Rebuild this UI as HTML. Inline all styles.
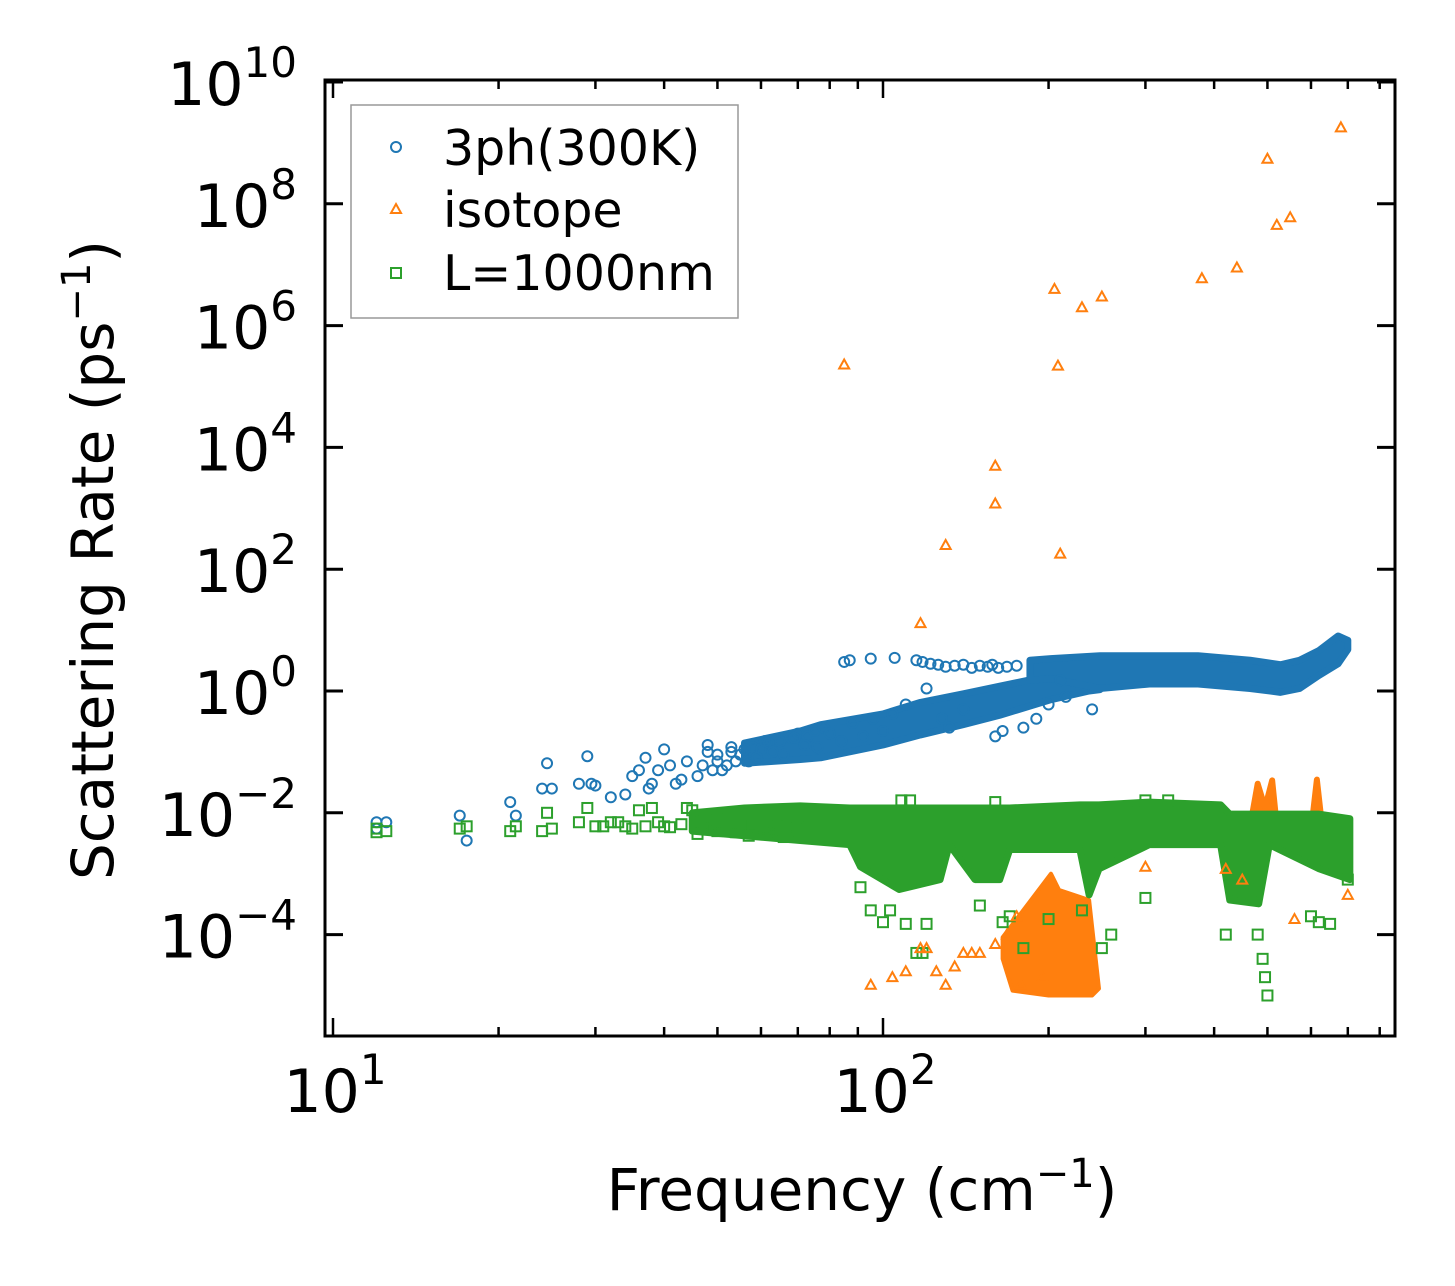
<!DOCTYPE html>
<html><head><meta charset="utf-8">
<style>
html,body{margin:0;padding:0;background:#fff;}
svg{display:block;font-family:"DejaVu Sans","Liberation Sans",sans-serif;}
</style></head>
<body>
<svg id="chart" width="1455" height="1286" viewBox="0 0 1455 1286" xmlns="http://www.w3.org/2000/svg">
<g id="bands"></g>
<g id="marks"></g>
<g id="axes"></g>
<text x="862" y="1210" font-size="58" text-anchor="middle">Frequency (cm<tspan dy="-23" font-size="40">−1</tspan><tspan dy="23">)</tspan></text>
<text transform="translate(113,560) rotate(-90)" font-size="58" text-anchor="middle">Scattering Rate (ps<tspan dy="-23" font-size="40">−1</tspan><tspan dy="23">)</tspan></text>
<g>
<rect x="351" y="105" width="387" height="213" fill="#fff" stroke="#999" stroke-width="1.5"/>
<circle cx="396" cy="147" r="5" fill="none" stroke="#1f77b4" stroke-width="2"/>
<text x="443" y="165" font-size="49">3ph(300K)</text>
<path d="M396,204 L401,213 L391,213 Z" fill="none" stroke="#ff7f0e" stroke-width="2"/>
<text x="443" y="227" font-size="49">isotope</text>
<rect x="391" y="268" width="10" height="10" fill="none" stroke="#2ca02c" stroke-width="2"/>
<text x="443" y="290" font-size="49">L=1000nm</text>
</g>
</svg>
<script>
// ---- data ----
const ph3Freq = [12,12,12.5,17,17.5,21,21.5,24,24.5,25,28,29,29.5,30,32,34,35,36,37,37.5,38,39,40,41,42,43,44,46,48,49,50,52,53,55,57,58,60,62,65,68,70,73,75,78,85,87,95,105,115,118,122,126,130,135,140,145,150,155,158,162,168,175,110,120,128,132,140,160,165,180,190,210,200,215,240,47,48,50,51,53,54,56,59,61,63,66,69,72,76,80,84,88,92,96,100,104];
const ph3Rate = [0.007,0.0055,0.007,0.009,0.0035,0.015,0.009,0.025,0.065,0.025,0.03,0.085,0.03,0.028,0.018,0.02,0.04,0.05,0.08,0.025,0.03,0.05,0.11,0.06,0.03,0.035,0.07,0.04,0.1,0.05,0.07,0.06,0.1,0.09,0.07,0.12,0.11,0.14,0.15,0.17,0.2,0.18,0.22,0.25,3,3.2,3.4,3.5,3.2,3,2.8,2.7,2.5,2.6,2.7,2.4,2.6,2.5,2.7,2.4,2.5,2.6,0.6,1.1,0.35,0.25,0.5,0.18,0.22,0.25,0.35,1.5,0.6,0.8,0.5,0.06,0.13,0.09,0.05,0.12,0.07,0.11,0.08,0.15,0.1,0.09,0.17,0.13,0.12,0.2,0.15,0.3,0.18,0.35,0.22,0.42];
const ph3BandFreq = [56,70.7,77,100,117,140,163,202,237,248];
const ph3BandLo = [0.065,0.075,0.08,0.13,0.19,0.28,0.4,0.72,1.0,1.05];
const ph3BandHi = [0.14,0.22,0.28,0.42,0.65,0.9,1.2,1.8,2.5,2.6];
const ph3UpFreq = [185,202,248,305,374,465,528,572,620,672,700];
const ph3UpLo = [1.5,1.6,1.1,1.3,1.3,1.1,0.95,1.1,1.8,2.8,4.8];
const ph3UpHi = [3.2,3.4,3.8,3.8,3.8,3.2,2.7,3.2,4.6,8,6.8];

const isoFreq = [85,117,130,160,160,205,208,210,230,250,380,440,500,520,550,680,95,104,110,117,120,125,130,135,140,145,150,160,168,175,178,195,700,450,560,420,300];
const isoRate = [2.3e5,13,250,5000,1200,4e6,2.2e5,180,2e6,3e6,6e6,9e6,5.5e8,4.5e7,6e7,1.8e9,1.5e-5,2e-5,2.5e-5,6e-5,6e-5,2.5e-5,1.5e-5,3e-5,5e-5,5e-5,5e-5,7e-5,1e-4,2e-4,1.5e-5,2e-5,4.5e-4,8e-4,1.8e-4,1.2e-3,1.3e-3];
const isoBandFreq = [165,185,202,209,237,247,240,200,172,165];
const isoBandRate = [9e-5,3.5e-4,1.0e-3,5.4e-4,3.7e-4,1.3e-5,1e-5,1e-5,1.2e-5,4e-5];
const isoPeakFreq = [465,480,495,510,520,530,600,615,630,640,600];
const isoPeakRate = [0.006,0.03,0.012,0.034,0.006,0.005,0.005,0.035,0.005,0.004,0.004];

const bndFreq = [12,12,12.5,17,17.5,21,21.5,24,24.5,25,28,29,30,32,34,36,38,40,44,91,95,100,103,110,115,118,120,150,165,170,180,200,230,250,260,300,420,480,490,495,500,600,620,650,108,112,160,300,330,700,31,33,35,37,39,41,43,45,47,49,52,55,58,61,64,67,70,46,50,54,57,62,66];
const bndRate = [0.0055,0.0048,0.005,0.0055,0.006,0.005,0.006,0.005,0.01,0.0055,0.007,0.012,0.006,0.007,0.006,0.011,0.012,0.006,0.012,6e-4,2.5e-4,1.6e-4,2.5e-4,1.5e-4,5e-5,5e-5,1.5e-4,3e-4,1.6e-4,2e-4,6e-5,1.8e-4,2.5e-4,6e-5,1e-4,4e-4,1e-4,1e-4,4e-5,2e-5,1e-5,2e-4,1.6e-4,1.5e-4,0.016,0.016,0.015,0.016,0.016,8e-4,0.006,0.007,0.0055,0.006,0.007,0.0058,0.0065,0.011,0.006,0.0055,0.0068,0.006,0.0062,0.0055,0.0065,0.006,0.0058,0.0045,0.005,0.0048,0.0042,0.0045,0.004];
const bndBandFreq = [45,56,70.7,87,91,107,127,132,147,163,170,228,237,247,305,411,427,482,504,621,706];
const bndBandLo = [0.005,0.0042,0.0035,0.003,0.0013,0.00055,0.0008,0.003,0.0008,0.0008,0.0025,0.0025,0.00045,0.0012,0.003,0.003,0.00037,0.00032,0.003,0.0012,0.0008];
const bndBandHi = [0.01,0.012,0.013,0.012,0.012,0.012,0.012,0.012,0.012,0.012,0.012,0.0135,0.0135,0.0135,0.015,0.0135,0.0095,0.0095,0.0095,0.0095,0.008];

const yTickExp = [-4,-2,0,2,4,6,8,10];
const xTickExp = [1,2];

// ---- axes functions ----
const X0=325,X1=1395,Y0=80,Y1=1036;
function xs(f){return 333+550*(Math.log10(f)-1);}
function ys(v){return 691-60.9*Math.log10(v);}
const NS="http://www.w3.org/2000/svg";
function mk(tag,attrs,parent){const e=document.createElementNS(NS,tag);for(const k in attrs)e.setAttribute(k,attrs[k]);parent.appendChild(e);return e;}
const bands=document.getElementById('bands'),marks=document.getElementById('marks'),axes=document.getElementById('axes');
const C1='#1f77b4',C2='#ff7f0e',C3='#2ca02c';

function bandPath(fr,lo,hi){let p=fr.map((f,i)=>xs(f)+','+ys(hi[i]));let q=fr.slice().reverse().map((f,i)=>xs(f)+','+ys(lo[fr.length-1-i]));return 'M'+p.concat(q).join(' L')+' Z';}

let b1=mk('path',{d:bandPath(ph3BandFreq,ph3BandLo,ph3BandHi),fill:C1,stroke:C1,'stroke-width':7,'stroke-linejoin':'round'},bands);


let b2=mk('path',{d:bandPath(ph3UpFreq,ph3UpLo,ph3UpHi),fill:C1,stroke:C1,'stroke-width':7,'stroke-linejoin':'round'},bands);


ph3Freq.forEach((f,i)=>{const c=mk('circle',{cx:xs(f),cy:ys(ph3Rate[i]),r:5,fill:'none',stroke:C1,'stroke-width':2},marks);

});

let o1=mk('path',{d:'M'+isoBandFreq.map((f,i)=>xs(f)+','+ys(isoBandRate[i])).join(' L')+' Z',fill:C2,stroke:C2,'stroke-width':4,'stroke-linejoin':'round'},bands);


let o2=mk('path',{d:'M'+isoPeakFreq.map((f,i)=>xs(f)+','+ys(isoPeakRate[i])).join(' L')+' Z',fill:C2,stroke:C2,'stroke-width':6,'stroke-linejoin':'round'},bands);



let g1=mk('path',{d:bandPath(bndBandFreq,bndBandLo,bndBandHi),fill:C3,stroke:C3,'stroke-width':7,'stroke-linejoin':'round'},bands);


bndFreq.forEach((f,i)=>{const x=xs(f),y=ys(bndRate[i]);const r=mk('rect',{x:x-5,y:y-5,width:10,height:10,fill:'none',stroke:C3,'stroke-width':2},marks);

});

isoFreq.forEach((f,i)=>{const x=xs(f),y=ys(isoRate[i]);const t=mk('path',{d:`M${x},${y-5} L${x+5},${y+4} L${x-5},${y+4} Z`,fill:'none',stroke:C2,'stroke-width':2},marks);

});

const fr=mk('rect',{x:X0,y:Y0,width:X1-X0,height:Y1-Y0,fill:'none',stroke:'#000','stroke-width':3},axes);


yTickExp.forEach(e=>{const y=ys(Math.pow(10,e));
 mk('line',{x1:X0,x2:X0+18,y1:y,y2:y,stroke:'#000','stroke-width':3},axes);
 mk('line',{x1:X1,x2:X1-18,y1:y,y2:y,stroke:'#000','stroke-width':3},axes);
 const t=mk('text',{x:X0-28,y:y+23,'font-size':60,'text-anchor':'end'},axes);
 
 
 t.innerHTML='10<tspan dy="-28" font-size="42">'+(e<0?'−'+(-e):e)+'</tspan>';
});
for(let d=1;d<=2;d++){for(let m=1;m<=9;m++){const f=m*Math.pow(10,d);if(xs(f)>X1)continue;const L=m===1?18:9;
 mk('line',{x1:xs(f),x2:xs(f),y1:Y1,y2:Y1-L,stroke:'#000','stroke-width':2.5},axes);
 mk('line',{x1:xs(f),x2:xs(f),y1:Y0,y2:Y0+L,stroke:'#000','stroke-width':2.5},axes);}}
xTickExp.forEach(e=>{const t=mk('text',{x:xs(Math.pow(10,e))+2,y:1112,'font-size':60,'text-anchor':'middle'},axes);
 
 
 t.innerHTML='10<tspan dy="-28" font-size="42">'+e+'</tspan>';});
</script>
</body></html>
